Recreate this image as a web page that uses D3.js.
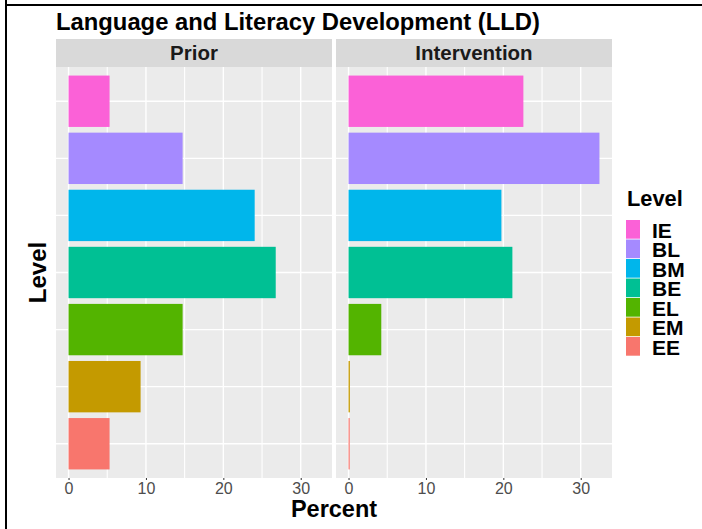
<!DOCTYPE html>
<html>
<head>
<meta charset="utf-8">
<script src="https://cdn.jsdelivr.net/npm/d3@7"></script>
<style>
  html, body { margin: 0; padding: 0; background: #fff; }
  svg { display: block; }
  text { font-family: "Liberation Sans", Arial, Helvetica, sans-serif; }
</style>
</head>
<body>
<svg id="chart" width="702" height="529"></svg>
<script>
// ---- data ----
const chartTitle = "Language and Literacy Development (LLD)";
const facets = ["Prior", "Intervention"];
const levels = ["IE", "BL", "BM", "BE", "EL", "EM", "EE"];   // top to bottom
const levelColors = ["#FB61D7", "#A58AFF", "#00B6EB", "#00C094", "#53B400", "#C49A00", "#F8766D"];
const priorValues = [5.3, 14.74, 24.05, 26.77, 14.74, 9.31, 5.3];
const interventionValues = [22.59, 32.42, 19.75, 21.17, 4.23, 0.17, 0.15];
const xTicks = [0, 10, 20, 30];
const xMinorTicks = [5, 15, 25];
const xTitle = "Percent";
const yTitle = "Level";
const legendTitle = "Level";

const seriesByFacet = [priorValues, interventionValues];

// ---- layout ----
const svg = d3.select("#chart");
const panelTop = 67, panelBottom = 478;
const stripTop = 39;
const panels = [{x0: 56, x1: 332}, {x0: 336, x1: 612}];

// frame lines
svg.append("rect").attr("x", 5).attr("y", 0).attr("width", 2).attr("height", 529).attr("fill", "#000");
svg.append("rect").attr("x", 7).attr("y", 4).attr("width", 695).attr("height", 2).attr("fill", "#000");

// shared x domain with ggplot 5% expansion
const allVals = priorValues.concat(interventionValues);
const vmin = Math.min(0, d3.min(allVals)), vmax = d3.max(allVals);
const ext = (vmax - vmin) * 0.05;

// y band scale
const y = d3.scaleBand()
  .domain(levels)
  .range([panelTop, panelBottom])
  .paddingInner(0.1)
  .paddingOuter(0.15);

const colorScale = d3.scaleOrdinal().domain(levels).range(levelColors);

panels.forEach((p, fi) => {
  const x = d3.scaleLinear().domain([vmin - ext, vmax + ext]).range([p.x0, p.x1]);
  const g = svg.append("g");

  // strip
  g.append("rect").attr("x", p.x0).attr("y", stripTop).attr("width", p.x1 - p.x0).attr("height", panelTop - stripTop).attr("fill", "#D9D9D9");
  g.append("text").attr("x", (p.x0 + p.x1) / 2).attr("y", 60).attr("text-anchor", "middle")
    .attr("font-size", "20.5px").attr("font-weight", "bold").attr("fill", "#1A1A1A").text(facets[fi]);

  // panel background
  g.append("rect").attr("x", p.x0).attr("y", panelTop).attr("width", p.x1 - p.x0).attr("height", panelBottom - panelTop).attr("fill", "#EBEBEB");

  // minor grid
  g.selectAll(".minor").data(xMinorTicks).enter().append("line")
    .attr("x1", d => x(d)).attr("x2", d => x(d)).attr("y1", panelTop).attr("y2", panelBottom)
    .attr("stroke", "#fff").attr("stroke-width", 1.1);
  // major grid x
  g.selectAll(".majorx").data(xTicks).enter().append("line")
    .attr("x1", d => x(d)).attr("x2", d => x(d)).attr("y1", panelTop).attr("y2", panelBottom)
    .attr("stroke", "#fff").attr("stroke-width", 1.4);
  // major grid y
  g.selectAll(".majory").data(levels).enter().append("line")
    .attr("x1", p.x0).attr("x2", p.x1)
    .attr("y1", d => y(d) + y.bandwidth() / 2).attr("y2", d => y(d) + y.bandwidth() / 2)
    .attr("stroke", "#fff").attr("stroke-width", 1.4);

  // bars
  const vals = seriesByFacet[fi];
  g.selectAll(".bar").data(levels).enter().append("rect")
    .attr("x", x(0))
    .attr("y", d => y(d))
    .attr("width", (d, i) => x(vals[i]) - x(0))
    .attr("height", y.bandwidth())
    .attr("fill", d => colorScale(d));

  // x axis
  const axis = d3.axisBottom(x).tickValues(xTicks).tickSize(2).tickPadding(3).tickFormat(d3.format("d"));
  const ag = g.append("g").attr("transform", `translate(0,${panelBottom})`).call(axis);
  ag.select(".domain").remove();
  ag.selectAll(".tick line").attr("stroke", "#333333").attr("stroke-width", 1);
  ag.selectAll(".tick text").attr("font-size", "16px").attr("fill", "#4D4D4D")
    .attr("dy", null).attr("y", 16);
});

// axis titles
svg.append("text").attr("x", (panels[0].x0 + panels[1].x1) / 2).attr("y", 517).attr("text-anchor", "middle")
  .attr("font-size", "23.5px").attr("font-weight", "bold").attr("fill", "#000").text(xTitle);
svg.append("text").attr("transform", `translate(45.5,${(panelTop + panelBottom) / 2}) rotate(-90)`)
  .attr("text-anchor", "middle").attr("font-size", "24px").attr("font-weight", "bold").attr("fill", "#000").text(yTitle);

// title
svg.append("text").attr("x", 56).attr("y", 30).attr("font-size", "23.8px").attr("font-weight", "bold").attr("fill", "#000").text(chartTitle);

// legend
const legTop = 220, keyStep = 19.5, keyX = 626, keyW = 14;
svg.append("text").attr("x", 627).attr("y", 206).attr("font-size", "21.8px").attr("font-weight", "bold").attr("fill", "#000").text(legendTitle);
const lg = svg.append("g");
levels.forEach((lv, i) => {
  const ky = legTop + i * keyStep;
  lg.append("rect").attr("x", keyX).attr("y", ky).attr("width", keyW).attr("height", keyStep - 0.8).attr("fill", colorScale(lv));
  lg.append("text").attr("x", 652).attr("y", ky + keyStep / 2 + 7.8).attr("font-size", "21px").attr("font-weight", "bold").attr("fill", "#000").text(lv);
});
</script>
</body>
</html>
